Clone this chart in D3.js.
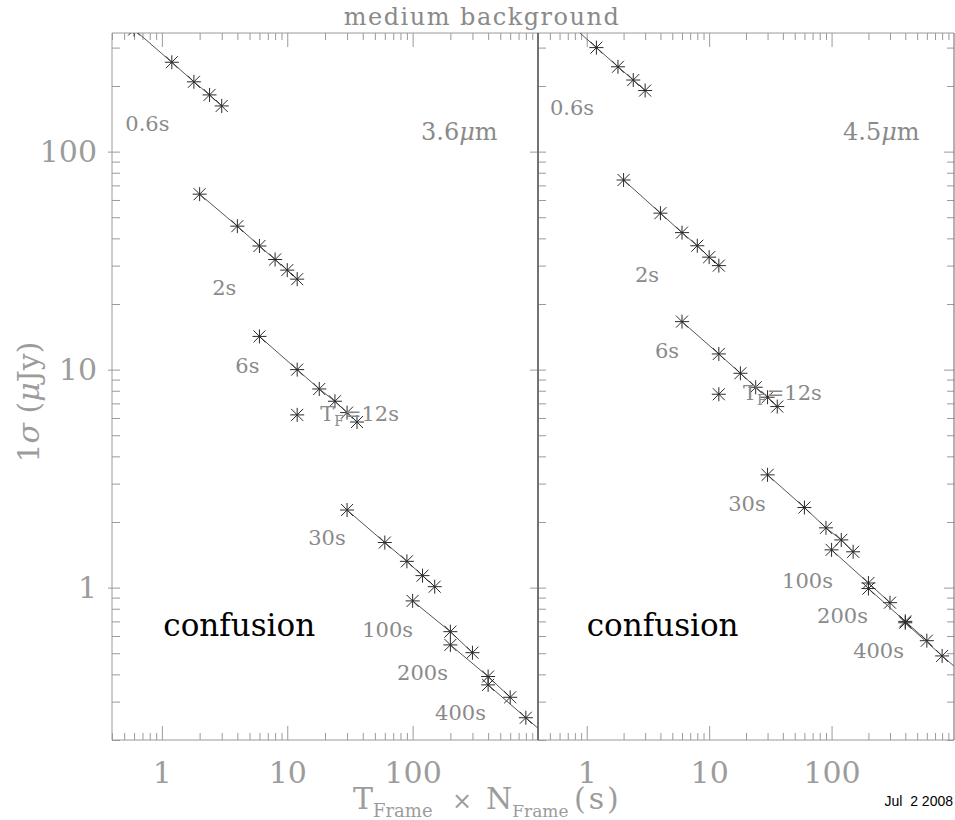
<!DOCTYPE html>
<html><head><meta charset="utf-8">
<script src="https://cdn.jsdelivr.net/npm/d3@7"></script>
<style>
body{margin:0;background:#fff;}
svg{display:block;}
</style></head>
<body><svg id="c" width="955" height="820"></svg>
<script>
// ---------- data ----------
const panelNames = ["3.6\u03bcm", "4.5\u03bcm"];
const seriesNames = ["0.6s", "2s", "6s", "12s", "30s", "100s", "200s", "400s"];
// T_frame x N_frame (s)
const x06 = [0.6, 1.2, 1.8, 2.4, 3.0];
const x2 = [2, 4, 6, 8, 10, 12];
const x6 = [6, 12, 18, 24, 30, 36];
const x12 = [12];
const x30 = [30, 60, 90, 120, 150];
const x100 = [100, 200, 300];
const x200 = [200, 400, 600];
const x400 = [400, 800, 1200];
// 1 sigma (uJy), 3.6 um
const s36_06 = [363, 257, 209, 182, 162];
const s36_2 = [63.8, 45.5, 36.9, 32.0, 28.6, 26.0];
const s36_6 = [14.2, 10.0, 8.15, 7.16, 6.35, 5.75];
const s36_12 = [6.2];
const s36_30 = [2.27, 1.61, 1.32, 1.135, 1.01];
const s36_100 = [0.869, 0.628, 0.503];
const s36_200 = [0.546, 0.391, 0.314];
const s36_400 = [0.358, 0.253, 0.207];
// 1 sigma (uJy), 4.5 um
const s45_06 = [424, 300, 245, 213, 190.6];
const s45_2 = [74.1, 52.2, 42.5, 37.0, 32.8, 30.0];
const s45_6 = [16.6, 11.8, 9.62, 8.30, 7.47, 6.77];
const s45_12 = [7.71];
const s45_30 = [3.29, 2.33, 1.88, 1.655, 1.46];
const s45_100 = [1.49, 1.05, 0.853];
const s45_200 = [0.99, 0.70, 0.571];
const s45_400 = [0.69, 0.486, 0.40];
// annotation anchors in data units [x, y]
const labels36 = [["0.6s",0.511,124],["2s",2.52,22.0],["6s",3.85,9.66],["TF",18.3,5.82],["30s",14.7,1.57],["100s",39.6,0.594],["200s",75.2,0.377],["400s",151,0.247]];
const labels45 = [["0.6s",0.501,147],["2s",2.48,25.3],["6s",3.61,11.3],["TF",18.9,7.26],["30s",14.3,2.25],["100s",39.4,1.0],["200s",76.1,0.689],["400s",150,0.476]];
const bandAnchor = [[116.8,113],[124,113]];
const confusionAnchor = [[1.026,0.60],[1.0,0.60]];
const xTickLabels = [1, 10, 100];
const yTickLabels = [1, 10, 100];

const xs = [x06, x2, x6, x12, x30, x100, x200, x400];
const panelSeries = [
  [s36_06, s36_2, s36_6, s36_12, s36_30, s36_100, s36_200, s36_400],
  [s45_06, s45_2, s45_6, s45_12, s45_30, s45_100, s45_200, s45_400]
];
const panelLabels = [labels36, labels45];

// ---------- layout ----------
const svg = d3.select("#c");
const yTop = 33, yBot = 740;
const panelX = [[112, 538], [538, 954]];
const gray = "#8a8a8a", lightGray = "#9c9c9c", frameCol = "#9a9a9a";
const serif = "'DejaVu Serif', serif";

const y = d3.scaleLog().domain([0.2, 350]).range([yBot, yTop]);

function minorTicks(lo, hi) {
  const out = [];
  [0.1, 1, 10, 100].forEach(dec => { for (let k = 1; k <= 9; k++) { const v = +(k * dec).toPrecision(3); if (v >= lo && v <= hi) out.push(v); } });
  return out;
}
const xMinor = minorTicks(0.4, 999).filter(v => ![1, 10, 100].includes(v));
const xMajor = [1, 10, 100];
const yMinor = minorTicks(0.2, 350).filter(v => ![1, 10, 100].includes(v));
const yMajor = [1, 10, 100];

function styleAxis(g) {
  g.select(".domain").remove();
  g.selectAll(".tick line").attr("stroke", frameCol);
}

const defs = svg.append("defs");

panelX.forEach((px, pi) => {
  const x = d3.scaleLog().domain([0.4, 1000]).range(px);
  const g = svg.append("g");

  defs.append("clipPath").attr("id", "clip" + pi).append("rect")
    .attr("x", px[0]).attr("y", yTop).attr("width", px[1] - px[0]).attr("height", yBot - yTop);

  g.append("g").attr("transform", `translate(0,${yBot})`).call(d3.axisTop(x).tickValues(xMinor).tickSize(7).tickFormat("")).call(styleAxis);
  g.append("g").attr("transform", `translate(0,${yBot})`).call(d3.axisTop(x).tickValues(xMajor).tickSize(14).tickFormat("")).call(styleAxis);
  g.append("g").attr("transform", `translate(0,${yTop})`).call(d3.axisBottom(x).tickValues(xMinor).tickSize(7).tickFormat("")).call(styleAxis);
  g.append("g").attr("transform", `translate(0,${yTop})`).call(d3.axisBottom(x).tickValues(xMajor).tickSize(14).tickFormat("")).call(styleAxis);
  const xl = g.append("g").attr("transform", `translate(0,${yBot})`)
    .call(d3.axisBottom(x).tickValues(xTickLabels).tickSize(0).tickPadding(22).tickFormat(d3.format("d")));
  xl.select(".domain").remove();
  xl.selectAll("text").attr("font-family", serif).attr("font-size", 30).attr("fill", lightGray);

  g.append("g").attr("transform", `translate(${px[0]},0)`).call(d3.axisRight(y).tickValues(yMinor).tickSize(8).tickFormat("")).call(styleAxis);
  g.append("g").attr("transform", `translate(${px[0]},0)`).call(d3.axisRight(y).tickValues(yMajor).tickSize(8).tickFormat("")).call(styleAxis);
  g.append("g").attr("transform", `translate(${px[0]},0)`).call(d3.axisLeft(y).tickValues(yMajor).tickSize(pi === 0 ? 4 : 8).tickFormat("")).call(styleAxis);
  if (pi === 1) {
    g.append("g").attr("transform", `translate(${px[1]},0)`).call(d3.axisLeft(y).tickValues(yMinor).tickSize(7).tickFormat("")).call(styleAxis);
    g.append("g").attr("transform", `translate(${px[1]},0)`).call(d3.axisLeft(y).tickValues(yMajor).tickSize(10).tickFormat("")).call(styleAxis);
  }
  if (pi === 0) {
    const yl = g.append("g").attr("transform", `translate(${px[0]},0)`)
      .call(d3.axisLeft(y).tickValues(yTickLabels).tickSize(0).tickPadding(15).tickFormat(d3.format("d")));
    yl.select(".domain").remove();
    yl.selectAll("text").attr("font-family", serif).attr("font-size", 30).attr("fill", lightGray);
  }

  g.append("line").attr("x1", px[0]).attr("x2", px[1]).attr("y1", yTop).attr("y2", yTop).attr("stroke", frameCol);
  g.append("line").attr("x1", px[0]).attr("x2", px[1]).attr("y1", yBot).attr("y2", yBot).attr("stroke", frameCol);
  g.append("line").attr("x1", px[0]).attr("x2", px[0]).attr("y1", yTop).attr("y2", yBot).attr("stroke", pi === 0 ? frameCol : "#444");
  g.append("line").attr("x1", px[1]).attr("x2", px[1]).attr("y1", yTop).attr("y2", yBot).attr("stroke", pi === 0 ? "#444" : "#666");

  const dg = g.append("g").attr("clip-path", `url(#clip${pi})`);
  const line = d3.line().x(d => x(d[0])).y(d => y(d[1]));
  panelSeries[pi].forEach((vals, si) => {
    const pts = xs[si].map((xv, k) => [xv, vals[k]]);
    if (pts.length > 1) {
      dg.append("path").attr("d", line(pts)).attr("fill", "none").attr("stroke", "#555").attr("stroke-width", 1);
    }
    const r = 7, dd = 6;
    const star = `M0,${-r}V${r}M${-r},0H${r}M${-dd},${-dd}L${dd},${dd}M${-dd},${dd}L${dd},${-dd}`;
    dg.selectAll(null).data(pts).enter().append("path")
      .attr("transform", d => `translate(${x(d[0])},${y(d[1])})`)
      .attr("d", star).attr("fill", "none").attr("stroke", "#2a2a2a").attr("stroke-width", 1);
  });

  panelLabels[pi].forEach(([t, lx, ly]) => {
    const tx = g.append("text").attr("x", x(lx)).attr("y", y(ly))
      .attr("font-family", serif).attr("font-size", 21).attr("fill", gray);
    if (t === "TF") {
      tx.append("tspan").text("T");
      tx.append("tspan").attr("font-size", 14).attr("dy", 5).text("F");
      tx.append("tspan").attr("dy", -5).text("=12s");
    } else tx.text(t);
  });

  const bt = g.append("text").attr("x", x(bandAnchor[pi][0])).attr("y", y(bandAnchor[pi][1]))
    .attr("font-family", serif).attr("font-size", 24).attr("fill", gray);
  bt.append("tspan").text(panelNames[pi].slice(0, 3));
  bt.append("tspan").attr("font-style", "italic").text("\u03bc");
  bt.append("tspan").text("m");

  g.append("text").attr("x", x(confusionAnchor[pi][0])).attr("y", y(confusionAnchor[pi][1]))
    .attr("font-family", serif).attr("font-size", 31).attr("fill", "#000").text("confusion");
});

svg.append("text").attr("x", 482).attr("y", 25).attr("text-anchor", "middle")
  .attr("font-family", serif).attr("font-size", 24).attr("letter-spacing", 1.5).attr("fill", gray).text("medium background");

const ylab = svg.append("text").attr("transform", "translate(39,402) rotate(-90)").attr("text-anchor", "middle")
  .attr("font-family", serif).attr("font-size", 30).attr("fill", lightGray);
ylab.append("tspan").text("1");
ylab.append("tspan").attr("font-style", "italic").text("\u03c3");
ylab.append("tspan").text(" (");
ylab.append("tspan").attr("font-style", "italic").text("\u03bc");
ylab.append("tspan").text("Jy)");

const xlab = svg.append("text").attr("x", 353).attr("y", 809)
  .attr("font-family", serif).attr("font-size", 30).attr("fill", lightGray);
xlab.append("tspan").text("T");
xlab.append("tspan").attr("font-size", 18).attr("dy", 8).text("Frame");
xlab.append("tspan").attr("x", 452).attr("dy", -8).attr("font-size", 24).text("\u00d7");
xlab.append("tspan").attr("x", 486).text("N");
xlab.append("tspan").attr("font-size", 17).attr("dy", 8).text("Frame");
xlab.append("tspan").attr("x", 574).attr("dy", -8).attr("letter-spacing", 3).text("(s)");

svg.append("text").attr("x", 953).attr("y", 806).attr("text-anchor", "end")
  .attr("font-family", "'Liberation Sans', Arial, sans-serif").attr("font-size", 14).attr("fill", "#000")
  .attr("xml:space", "preserve").style("white-space", "pre").text("Jul  2 2008");
</script></body></html>
